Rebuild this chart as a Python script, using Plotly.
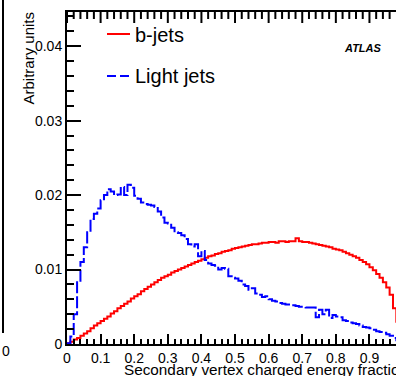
import numpy as np
import plotly.graph_objects as go

# ---- data (histograms, 100 bins of width 0.01 on [0, 1]) ----
bin_edges = np.round(np.arange(0, 1.0001, 0.01), 2)

b_jets = [
    0.0001, 0.0003, 0.0006, 0.0008, 0.0011, 0.0014, 0.0017, 0.0021, 0.0025, 0.0028,
    0.0031, 0.0034, 0.0037, 0.0041, 0.0044, 0.0048, 0.0051, 0.0054, 0.0057, 0.0061,
    0.0064, 0.0067, 0.0071, 0.0074, 0.0077, 0.0080, 0.0083, 0.0086, 0.0089, 0.0091,
    0.0093, 0.0096, 0.0098, 0.0100, 0.0102, 0.0104, 0.0106, 0.0108, 0.0110, 0.0112,
    0.0114, 0.0116, 0.0118, 0.0119, 0.0121, 0.0122, 0.0124, 0.0125, 0.0126, 0.0128,
    0.0129, 0.0130, 0.0131, 0.0132, 0.0133, 0.0134, 0.0134, 0.0135, 0.0136, 0.0136,
    0.0137, 0.0137, 0.0136, 0.0138, 0.0138, 0.0137, 0.0138, 0.0138, 0.0142, 0.0138,
    0.0137, 0.0137, 0.0136, 0.0135, 0.0134, 0.0133, 0.0132, 0.0131, 0.0130, 0.0128,
    0.0127, 0.0126, 0.0124, 0.0122, 0.0120, 0.0118, 0.0116, 0.0113, 0.0110, 0.0107,
    0.0103, 0.0099, 0.0094, 0.0089, 0.0083, 0.0076, 0.0066, 0.0048, 0.0030, 0.0015,
]

light_jets = [
    0.0001, 0.0010, 0.0040, 0.0085, 0.0110, 0.0130, 0.0150, 0.0168, 0.0175, 0.0182,
    0.0193, 0.0200, 0.0208, 0.0205, 0.0200, 0.0201, 0.0211, 0.0200, 0.0214, 0.0210,
    0.0199, 0.0195, 0.0190, 0.0188, 0.0187, 0.0186, 0.0184, 0.0178, 0.0170, 0.0163,
    0.0162, 0.0156, 0.0150, 0.0149, 0.0146, 0.0141, 0.0134, 0.0131, 0.0134, 0.0118,
    0.0125, 0.0113, 0.0108, 0.0106, 0.0105, 0.0100, 0.0102, 0.0101, 0.0091, 0.0089,
    0.0088, 0.0085, 0.0080, 0.0078, 0.0073, 0.0075, 0.0068, 0.0066, 0.0063, 0.0064,
    0.0060, 0.0058, 0.0057, 0.0055, 0.0054, 0.0053, 0.0053, 0.0052, 0.0051, 0.0050,
    0.0050, 0.0049, 0.0049, 0.0049, 0.0036, 0.0046, 0.0040, 0.0046, 0.0035, 0.0039,
    0.0037, 0.0036, 0.0032, 0.0031, 0.0029, 0.0028, 0.0027, 0.0025, 0.0023, 0.0022,
    0.0021, 0.0019, 0.0017, 0.0016, 0.0015, 0.0013, 0.0011, 0.0008, 0.0005, 0.0003,
]

x_tick_vals = [0, 0.1, 0.2, 0.3, 0.4, 0.5, 0.6, 0.7, 0.8, 0.9]
x_tick_text = ["0", "0.1", "0.2", "0.3", "0.4", "0.5", "0.6", "0.7", "0.8", "0.9"]
x_minor_vals = [round(v, 2) for v in np.arange(0, 0.98, 0.02)]
y_tick_vals = [0, 0.01, 0.02, 0.03, 0.04]
y_tick_text = ["0", "0.01", "0.02", "0.03", "0.04"]

FONT = "Liberation Sans, Arial, Helvetica, sans-serif"
X_RANGE = [0, 0.979]
Y_RANGE = [0, 0.0446]

fig = go.Figure()
fig.add_trace(go.Scatter(
    x=list(bin_edges), y=b_jets + [b_jets[-1]], mode="lines",
    line=dict(color="#ff0000", width=2, shape="hv"), name="b-jets",
))
fig.add_trace(go.Scatter(
    x=list(bin_edges), y=light_jets + [light_jets[-1]], mode="lines",
    line=dict(color="#0000ff", width=2, shape="hv", dash="12px,3px"), name="Light jets",
))

W, H = 396, 376
L, R, T, B = 67, 0, 12, 32
pw, ph = W - L - R, H - T - B


def px(xp):
    return (xp - L) / pw


def py(yp):
    return (H - B - yp) / ph


fig.update_layout(
    width=W, height=H,
    margin=dict(l=L, r=R, t=T, b=B, pad=0),
    paper_bgcolor="white", plot_bgcolor="white",
    showlegend=False,
    font=dict(family=FONT, size=14, color="black"),
    xaxis=dict(
        range=X_RANGE, tickvals=x_tick_vals, ticktext=x_tick_text,
        ticks="inside", ticklen=10, tickwidth=1.5, tickcolor="black",
        minor=dict(dtick=0.02, tick0=0, ticks="inside", ticklen=5, tickwidth=1.5, tickcolor="black"),
        showline=True, linecolor="black", linewidth=2, mirror=True,
        showgrid=False, zeroline=False, tickfont=dict(size=14),
    ),
    yaxis=dict(
        range=Y_RANGE, tickvals=y_tick_vals, ticktext=y_tick_text,
        ticks="inside", ticklen=14, tickwidth=1.5, tickcolor="black",
        minor=dict(dtick=0.002, tick0=0, ticks="inside", ticklen=7, tickwidth=1.5, tickcolor="black"),
        showline=True, linecolor="black", linewidth=2, mirror=False,
        showgrid=False, zeroline=False, tickfont=dict(size=14),
    ),
)

shapes = [
    # legend samples
    dict(type="line", xref="paper", yref="paper", x0=px(107), x1=px(130), y0=py(34), y1=py(34),
         line=dict(color="#ff0000", width=2)),
    dict(type="line", xref="paper", yref="paper", x0=px(107), x1=px(130), y0=py(76), y1=py(76),
         line=dict(color="#0000ff", width=2, dash="9px,4px")),
    # neighbouring panel frame at the left edge
    dict(type="line", xref="paper", yref="paper", x0=px(3), x1=px(3), y0=py(0), y1=py(333),
         line=dict(color="black", width=2)),
]
# tick marks on the top frame (mirrored ticks, ROOT style)
for v in x_minor_vals:
    major = any(abs(v - m) < 1e-9 for m in x_tick_vals)
    tl = 11 if major else 7
    x_frac = (v - X_RANGE[0]) / (X_RANGE[1] - X_RANGE[0])
    shapes.append(dict(type="line", xref="paper", yref="paper", layer="above",
                       x0=x_frac, x1=x_frac, y0=1, y1=1 - tl / ph,
                       line=dict(color="#000000", width=2)))
fig.update_layout(shapes=shapes)

ann = [
    dict(text="b-jets", x=px(133), y=py(35), xanchor="left", yanchor="middle",
         font=dict(size=20)),
    dict(text="Light jets", x=px(133), y=py(76), xanchor="left", yanchor="middle",
         font=dict(size=20)),
    dict(text="<b><i>ATLAS</i></b>", x=px(342), y=py(48), xanchor="left", yanchor="middle",
         font=dict(size=11)),
    dict(text="Arbitrary units", x=px(28), y=py(10), xanchor="center", yanchor="top",
         textangle=-90, font=dict(size=15)),
    dict(text="Secondary vertex charged energy fraction", x=px(122), y=py(380),
         xanchor="left", yanchor="bottom", font=dict(size=15.3)),
    dict(text="0", x=px(12), y=py(351), xanchor="right", yanchor="middle",
         font=dict(size=14)),
]
for a in ann:
    a.update(xref="paper", yref="paper", showarrow=False)
fig.update_layout(annotations=ann)

fig.write_html("out.html")
